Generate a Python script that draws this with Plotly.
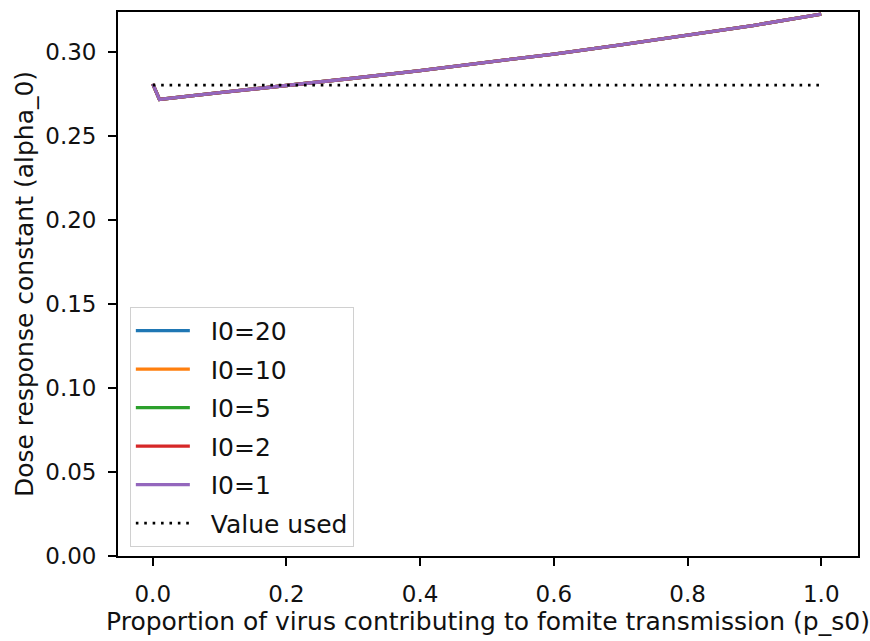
import plotly.graph_objects as go

# Data
p_s0 = [0.0, 0.01, 0.1, 0.2, 0.3, 0.4, 0.5, 0.6, 0.7, 0.8, 0.9, 1.0]
alpha_I0_20 = [0.2807, 0.2715, 0.2755, 0.2797, 0.2841, 0.2887, 0.2935, 0.2985, 0.3040, 0.3096, 0.3156, 0.3222]
alpha_I0_10 = [0.2807, 0.2715, 0.2755, 0.2797, 0.2841, 0.2887, 0.2935, 0.2985, 0.3040, 0.3096, 0.3156, 0.3222]
alpha_I0_5 = [0.2807, 0.2715, 0.2755, 0.2797, 0.2841, 0.2887, 0.2935, 0.2985, 0.3040, 0.3096, 0.3156, 0.3222]
alpha_I0_2 = [0.2807, 0.2715, 0.2755, 0.2797, 0.2841, 0.2887, 0.2935, 0.2985, 0.3040, 0.3096, 0.3156, 0.3222]
alpha_I0_1 = [0.2807, 0.2715, 0.2755, 0.2797, 0.2841, 0.2887, 0.2935, 0.2985, 0.3040, 0.3096, 0.3156, 0.3222]
value_used_x = [0.0, 1.0]
value_used_y = [0.28, 0.28]

series_names = ["I0=20", "I0=10", "I0=5", "I0=2", "I0=1"]
series_values = [alpha_I0_20, alpha_I0_10, alpha_I0_5, alpha_I0_2, alpha_I0_1]
colors = ["#1f77b4", "#ff7f0e", "#2ca02c", "#d62728", "#9467bd"]

x_ticks = [0.0, 0.2, 0.4, 0.6, 0.8, 1.0]
y_ticks = [0.00, 0.05, 0.10, 0.15, 0.20, 0.25, 0.30]

FONT = "DejaVu Sans"
TXT = "#111"
PAD = "\u00a0\u00a0"
fig = go.Figure()
for i, (name, vals, col) in enumerate(zip(series_names, series_values, colors)):
    fig.add_trace(go.Scatter(x=p_s0, y=vals, mode="lines", name=PAD + name,
                             line=dict(color=col, width=3.3), legendgroup=f"g{i}"))
fig.add_trace(go.Scatter(x=value_used_x, y=value_used_y, mode="lines", name=PAD + "Value used",
                         line=dict(color="black", width=2.6, dash="2.6px,5.8px"), legendgroup="g5"))

axis_common = dict(
    showline=True, linecolor="black", linewidth=1.8, mirror=True,
    ticks="outside", ticklen=8, tickwidth=1.8, tickcolor="black",
    showgrid=False, zeroline=False,
    tickfont=dict(family=FONT, size=23, color=TXT),
)

fig.update_layout(
    width=870, height=641,
    margin=dict(l=118, r=10, t=12, b=78),
    paper_bgcolor="white", plot_bgcolor="white",
    font=dict(family=FONT, size=25, color=TXT),
    showlegend=True,
    legend=dict(x=0.016, y=0.458, xanchor="left", yanchor="top",
                bgcolor="rgba(255,255,255,0.8)", bordercolor="#d0d0d0", borderwidth=1,
                font=dict(family=FONT, size=25, color=TXT),
                itemwidth=54,
                traceorder="grouped", tracegroupgap=3),
    xaxis=dict(range=[-0.052, 1.055], tickvals=x_ticks, ticktext=[f"{v:.1f}" for v in x_ticks],
               ticklabelstandoff=8,
               title=dict(text="Proportion of virus contributing to fomite transmission (p_s0)",
                          font=dict(family=FONT, size=25, color=TXT), standoff=7),
               **axis_common),
    yaxis=dict(range=[0, 0.3235], tickvals=y_ticks, ticktext=[f"{v:.2f}" for v in y_ticks],
               ticklabelstandoff=7,
               title=dict(text="Dose response constant (alpha_0)",
                          font=dict(family=FONT, size=25, color=TXT), standoff=5),
               **axis_common),
)

fig.write_html("out.html")
